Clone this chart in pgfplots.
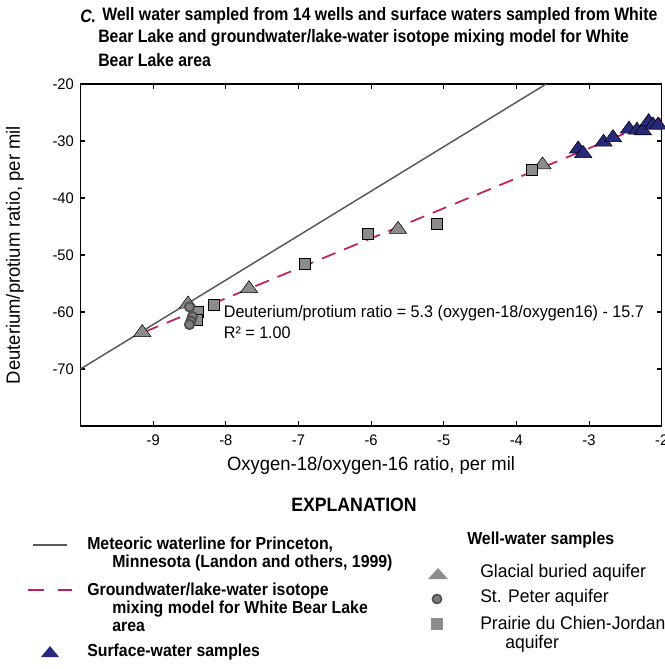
\documentclass[border=0pt]{standalone}
\usepackage{pgfplots}
\pgfplotsset{compat=1.18}
\usepackage{fontspec}
\setmainfont{Liberation Sans}[FakeStretch=0.96]
\newfontfamily\bcond{Liberation Sans}[FakeStretch=0.915]
\newfontfamily\tcond{Liberation Sans}[FakeStretch=0.88]
\definecolor{mwl}{HTML}{5A5651}
\definecolor{mixc}{HTML}{C21F5B}
\definecolor{navy}{HTML}{28297A}
\definecolor{gmark}{HTML}{8C8C8C}
\definecolor{cfill}{HTML}{7D7D7D}
\definecolor{cedge}{HTML}{505050}

\pgfplotstableread{
x y
-9.15 -63.6
-8.52 -58.6
-7.68 -55.9
-5.63 -45.5
-3.64 -34.2
}\glacial
\pgfplotstableread{
x y
-8.16 -58.7
-8.38 -60.0
-8.40 -61.3
-6.91 -51.5
-6.04 -46.3
-5.09 -44.5
-3.79 -35.0
}\prairie
\pgfplotstableread{
x y
-8.50 -59.1
-8.46 -60.8
-8.48 -61.6
-8.50 -62.2
}\stpeter
\pgfplotstableread{
x y
-3.15 -31.4
-3.08 -32.2
-2.80 -30.2
-2.67 -29.4
-2.45 -27.9
-2.34 -28.1
-2.26 -28.2
-2.18 -26.6
-2.12 -27.2
-2.05 -27.2
}\surface

\begin{document}
\begin{tikzpicture}
\begin{axis}[at={(60.375pt,-319.5pt)}, anchor=south west, scale only axis,
  width=435.9pt, height=256.5pt,
  xmin=-10, xmax=-2, ymin=-80, ymax=-20,
  xtick={-9,-8,...,-2}, ytick={-70,-60,...,-20},
  tick align=inside, major tick length=3.5pt,
  every tick/.style={black, line width=0.8pt},
  axis line style={line width=1pt},
  tick label style={font=\fontsize{11.5}{13}\selectfont},
  xticklabel style={yshift=-3pt},
  yticklabel style={xshift=-1.5pt},
  /pgf/number format/assume math mode=true,
  xlabel={Oxygen-18/oxygen-16 ratio, per mil},
  ylabel={Deuterium/protium ratio, per mil},
  label style={font=\fontsize{14.4}{16}\selectfont},
  xlabel style={at={(axis description cs:0.5,-0.117)}, anchor=center},
  ylabel style={at={(axis description cs:-0.1127,0.5)}, anchor=center},
  clip=true]
\addplot[only marks, mark=triangle*, mark size=7.5pt, mark options={fill=gmark, draw=none, yscale=0.8}] table {\glacial};
\addplot[only marks, mark=square*, mark size=4.1pt, mark options={fill=gmark, draw=none}] table {\prairie};
\addplot[mwl, line width=1.1pt] coordinates {(-10,-70) (-3.59,-20)};
\addplot[mixc, line width=1.3pt, dash pattern=on 11pt off 7pt] coordinates {(-9.12,-63.5) (-2,-26.0)};
\addplot[only marks, mark=*, mark size=3.5pt, mark options={fill=cfill, draw=cedge, line width=1.4pt}] table {\stpeter};
\addplot[only marks, mark=triangle*, mark size=7.5pt, mark options={fill=navy, draw=none, yscale=0.8}] table {\surface};
\node[anchor=west, font=\fontsize{12.6}{14}\selectfont, inner sep=0pt] at (axis cs:-8.03,-60.2) {Deuterium/protium ratio = 5.3 (oxygen-18/oxygen16) - 15.7};
\node[anchor=west, font=\fontsize{12.6}{14}\selectfont, inner sep=0pt] at (axis cs:-8.03,-63.7) {R² = 1.00};
\end{axis}
\begin{scope}[x=0.75pt, y=-0.75pt]
\begin{scope}[every node/.style={anchor=west, inner sep=0pt, font=\tcond\bfseries\fontsize{13.5}{15}\selectfont}]
\node at (80,16) {\itshape C.};
\node at (102,16) {Well water sampled from 14 wells and surface waters sampled from White};
\node at (98,38) {Bear Lake and groundwater/lake-water isotope mixing model for White};
\node at (98,60) {Bear Lake area};
\end{scope}
\node[font=\bcond\bfseries\fontsize{14.5}{16}\selectfont, inner sep=0pt] at (354,505) {EXPLANATION};
\begin{scope}[every node/.style={anchor=west, inner sep=0pt, font=\bcond\bfseries\fontsize{13}{15}\selectfont}]
\draw[mwl, line width=1.1pt] (33,545) -- (67,545);
\node at (87,545) {Meteoric waterline for Princeton,};
\node at (112,563) {Minnesota (Landon and others, 1999)};
\draw[mixc, line width=1.3pt] (28,590) -- (44,590) (58,590) -- (72,590);
\node at (87,591) {Groundwater/lake-water isotope};
\node at (112,609) {mixing model for White Bear Lake};
\node at (112,627) {area};
\fill[navy] (41,657) -- (59,657) -- (50,646) -- cycle;
\node at (87,652) {Surface-water samples};
\node at (467,540) {Well-water samples};
\end{scope}
\begin{scope}[every node/.style={anchor=west, inner sep=0pt, font=\fontsize{13.7}{15}\selectfont}]
\fill[gmark] (428,579) -- (448,579) -- (438,568) -- cycle;
\node at (480,573) {Glacial buried aquifer};
\filldraw[fill=cfill, draw=cedge, line width=1.3pt] (437,599) circle (4.5);
\node at (480,598) {St. Peter aquifer};
\fill[gmark] (431,618) rectangle (443,630);
\node at (480,623) {Prairie du Chien-Jordan};
\node at (505,644) {aquifer};
\end{scope}
\pgfresetboundingbox
\path (0,0) rectangle (665,669);
\end{scope}
\end{tikzpicture}
\end{document}
